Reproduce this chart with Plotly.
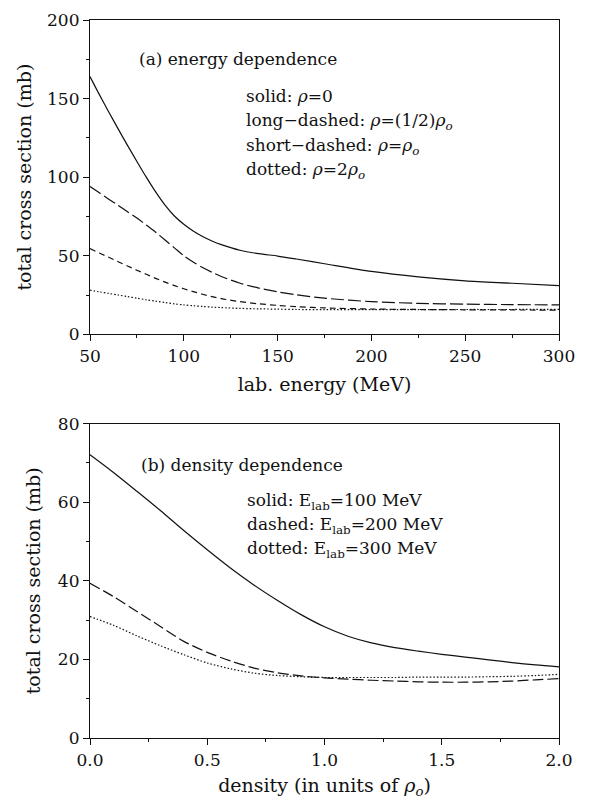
import plotly.graph_objects as go
from plotly.subplots import make_subplots

# ---- panel (a): energy dependence ----
energy = [50, 55, 60, 65, 70, 75, 80, 85, 90, 95, 100, 105, 110, 115, 120, 130, 140, 150, 160, 175, 200, 225, 250, 275, 300]
sigma_rho0 = [164, 152.5, 141.5, 130.7, 120.2, 110, 100, 90.6, 82.2, 75.3, 70, 65.7, 62.2, 59.4, 57.1, 53.5, 51.3, 49.8, 47.9, 44.9, 40, 36.5, 34, 32.5, 31]
sigma_rho_half = [94, 90, 86, 82, 78, 74, 69.5, 65, 60, 55, 50, 46, 42.5, 39.5, 36.8, 32.5, 29.4, 27, 25.1, 23, 20.8, 19.7, 19.2, 18.9, 18.7]
sigma_rho1 = [54.6, 51.7, 49, 46.2, 43.5, 40.8, 38.2, 35.6, 33.2, 31, 29, 27.2, 25.5, 24, 22.7, 20.8, 19.4, 18.4, 17.6, 16.8, 16.1, 15.8, 15.6, 15.5, 15.4]
sigma_rho2 = [28.1, 27, 26, 25, 24, 23, 22, 21.1, 20.2, 19.4, 18.7, 18.2, 17.7, 17.3, 17, 16.5, 16.2, 16, 15.8, 15.7, 15.7, 15.7, 15.8, 15.8, 15.9]

# ---- panel (b): density dependence ----
density = [0.0, 0.1, 0.2, 0.3, 0.4, 0.5, 0.6, 0.7, 0.8, 0.9, 1.0, 1.1, 1.2, 1.3, 1.4, 1.5, 1.6, 1.7, 1.8, 1.9, 2.0]
sigma_e100 = [72.1, 67.6, 62.8, 57.9, 52.8, 47.9, 43.2, 38.9, 35.0, 31.4, 28.3, 25.9, 24.2, 23.0, 22.1, 21.3, 20.6, 19.9, 19.2, 18.6, 18.1]
sigma_e200 = [39.4, 36.0, 32.2, 28.4, 24.6, 21.8, 19.6, 17.8, 16.6, 15.8, 15.3, 15.0, 14.7, 14.5, 14.3, 14.2, 14.2, 14.3, 14.5, 14.8, 15.1]
sigma_e300 = [30.9, 28.7, 26.0, 23.5, 21.2, 19.1, 17.6, 16.5, 15.9, 15.6, 15.4, 15.4, 15.4, 15.4, 15.5, 15.5, 15.5, 15.6, 15.7, 15.9, 16.2]

FONT = "DejaVu Serif"
BLACK = "#111111"

fig = make_subplots(rows=2, cols=1, vertical_spacing=0.0)

def line(dash):
    return dict(color=BLACK, width=1.2, dash=dash, shape="spline", smoothing=0.8)

fig.add_trace(go.Scatter(x=energy, y=sigma_rho0, mode="lines", line=line("solid"), showlegend=False), row=1, col=1)
fig.add_trace(go.Scatter(x=energy, y=sigma_rho_half, mode="lines", line=line("13px,4px"), showlegend=False), row=1, col=1)
fig.add_trace(go.Scatter(x=energy, y=sigma_rho1, mode="lines", line=line("6px,4px"), showlegend=False), row=1, col=1)
fig.add_trace(go.Scatter(x=energy, y=sigma_rho2, mode="lines", line=line("1.5px,2px"), showlegend=False), row=1, col=1)

fig.add_trace(go.Scatter(x=density, y=sigma_e100, mode="lines", line=line("solid"), showlegend=False), row=2, col=1)
fig.add_trace(go.Scatter(x=density, y=sigma_e200, mode="lines", line=line("11px,4px"), showlegend=False), row=2, col=1)
fig.add_trace(go.Scatter(x=density, y=sigma_e300, mode="lines", line=line("1.5px,2px"), showlegend=False), row=2, col=1)

H = 803
mt, mb = 10, 62
ph = H - mt - mb
top_lo = (741 - 330) / ph
bot_hi = (741 - 421) / ph

axis_common = dict(
    showline=True, linecolor=BLACK, linewidth=1.2, mirror=True,
    showgrid=False, zeroline=False,
    ticks="outside", ticklen=6, tickwidth=1, tickcolor=BLACK,
    tickfont=dict(family=FONT, size=17, color=BLACK),
)

fig.update_xaxes(**axis_common)
fig.update_yaxes(**axis_common)

TFONT = dict(family=FONT, size=19, color=BLACK)
fig.update_layout(
    xaxis=dict(domain=[0, 1], range=[50, 300], tickvals=[50, 100, 150, 200, 250, 300],
               minor=dict(tickvals=[75, 125, 175, 225, 275], ticks="outside", ticklen=3, tickcolor=BLACK),
               title=dict(text="lab. energy (MeV)", font=TFONT, standoff=12)),
    yaxis=dict(domain=[top_lo, 1], range=[0, 200], tickvals=[0, 50, 100, 150, 200],
               minor=dict(tickvals=[25, 75, 125, 175], ticks="outside", ticklen=3, tickcolor=BLACK),
               title=dict(text="total cross section (mb)", font=TFONT, standoff=10)),
    xaxis2=dict(domain=[0, 1], range=[0, 2], tickvals=[0, 0.5, 1.0, 1.5, 2.0], tickformat=".1f",
                minor=dict(tickvals=[0.25, 0.75, 1.25, 1.75], ticks="outside", ticklen=3, tickcolor=BLACK),
                title=dict(text="density (in units of <i>ρ</i><sub><i>o</i></sub>)", font=TFONT, standoff=10)),
    yaxis2=dict(domain=[0, bot_hi], range=[0, 80], tickvals=[0, 20, 40, 60, 80],
                minor=dict(tickvals=[10, 30, 50, 70], ticks="outside", ticklen=3, tickcolor=BLACK),
                title=dict(text="total cross section (mb)", font=TFONT, standoff=12)),
    width=589, height=803,
    margin=dict(l=90, r=30, t=mt, b=mb),
    paper_bgcolor="white", plot_bgcolor="white",
)

ann_font = dict(family=FONT, size=17, color=BLACK)
top_ann = [
    ("(a) energy dependence", 0.100, 0.875),
    ("solid: <i>ρ</i>=0", 0.328, 0.758),
    ("long\u2212dashed: <i>ρ</i>=(1/2)<i>ρ</i><sub><i>o</i></sub>", 0.328, 0.676),
    ("short\u2212dashed: <i>ρ</i>=<i>ρ</i><sub><i>o</i></sub>", 0.328, 0.597),
    ("dotted: <i>ρ</i>=2<i>ρ</i><sub><i>o</i></sub>", 0.328, 0.522),
]
for t, x, y in top_ann:
    fig.add_annotation(text=t, x=x, y=y, xref="x domain", yref="y domain",
                       xanchor="left", yanchor="middle", showarrow=False, font=ann_font)

bot_ann = [
    ("(b) density dependence", 0.105, 0.870),
    ("solid: E<sub>lab</sub>=100 MeV", 0.330, 0.752),
    ("dashed: E<sub>lab</sub>=200 MeV", 0.330, 0.677),
    ("dotted: E<sub>lab</sub>=300 MeV", 0.330, 0.601),
]
for t, x, y in bot_ann:
    fig.add_annotation(text=t, x=x, y=y, xref="x2 domain", yref="y2 domain",
                       xanchor="left", yanchor="middle", showarrow=False, font=ann_font)

fig.write_html("out.html")
